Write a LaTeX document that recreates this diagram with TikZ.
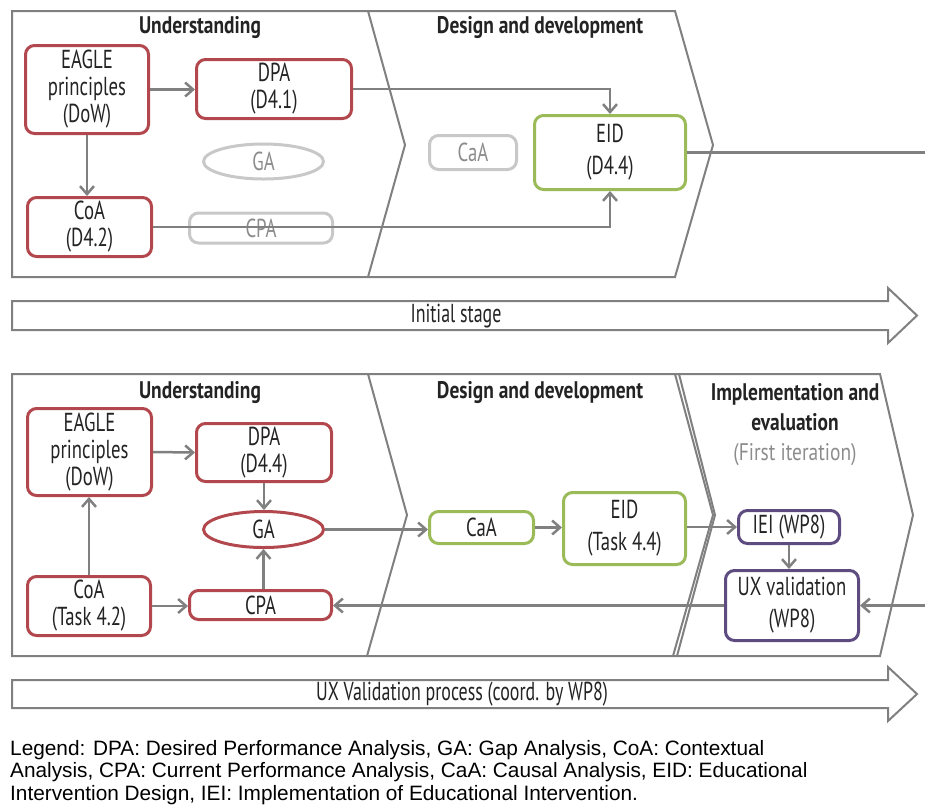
\documentclass[tikz,border=0pt]{standalone}
\usepackage{fontspec}
\setmainfont{Liberation Sans}
\newfontfamily\nodefont[FakeStretch=0.72]{PT Sans}
\newfontfamily\titlefont[FakeStretch=0.81]{PT Sans}
\newfontfamily\stagefont[FakeStretch=0.69]{PT Sans}
\usetikzlibrary{arrows.meta,shapes.geometric}

\definecolor{frame}{RGB}{128,128,128}
\definecolor{cred}{RGB}{178,72,78}
\definecolor{cgreen}{RGB}{155,187,89}
\definecolor{cpurple}{RGB}{94,76,128}
\definecolor{cfaint}{RGB}{200,200,200}
\definecolor{faintxt}{RGB}{140,140,140}
\definecolor{txt}{RGB}{35,35,35}

\tikzset{
  panel/.style={draw=frame, line width=2pt, line join=miter},
  box/.style={draw, rounded corners=9pt, line width=3pt, align=center, inner sep=0pt,
    text=txt, font=\nodefont\fontsize{26}{27}\selectfont},
  redbox/.style={box, draw=cred},
  greenbox/.style={box, draw=cgreen, font=\nodefont\fontsize{26}{32}\selectfont},
  purplebox/.style={box, draw=cpurple, font=\nodefont\fontsize{26}{32}\selectfont},
  faintbox/.style={box, draw=cfaint, text=faintxt},
  oval/.style={ellipse, draw, line width=3pt, inner sep=0pt, text=txt,
    font=\nodefont\fontsize{26}{27}\selectfont},
  title/.style={text=txt, align=center, font=\titlefont\bfseries\fontsize{24}{30}\selectfont},
  stagelabel/.style={text=txt, font=\stagefont\fontsize{26}{27}\selectfont},
  conn/.style={draw=frame, line width=2.5pt, -{Straight Barb[length=8pt,width=14pt]}},
  plain/.style={draw=frame, line width=2.5pt},
  bigarrow/.style={draw=frame, line width=2pt, fill=white},
  legend/.style={anchor=base west, inner sep=0pt, font=\fontsize{20.8}{22.5}\selectfont, text=black}
}

\begin{document}
\begin{tikzpicture}[x=1pt,y=-1pt]
\useasboundingbox (0,0) rectangle (925,807);

% ---------- initial stage: panels ----------
\draw[panel] (368,11) -- (12,11) -- (12,277) -- (675,277) -- (713,145) -- (675,11) -- (368,11)
             -- (405,145) -- (368,277);
\node[title] (tUndA) at (200,28) {Understanding};
\node[title] (tDesA) at (540,28) {Design and development};

% nodes
\node[redbox, minimum width=123pt, minimum height=88pt] (eagleA) at (87,89.5) {EAGLE\\principles\\(DoW)};
\node[redbox, minimum width=155pt, minimum height=59pt] (dpaA) at (274,89) {DPA\\(D4.1)};
\node[oval, draw=cfaint, text=faintxt, minimum width=120pt, minimum height=35pt] (gaA) at (263.5,161.5) {GA};
\node[redbox, minimum width=124pt, minimum height=59pt] (coaA) at (89.5,227) {CoA\\(D4.2)};
\node[faintbox, minimum width=143pt, minimum height=30pt] (cpaA) at (261,228) {CPA};
\node[faintbox, minimum width=87pt, minimum height=34pt] (caaA) at (473,152.5) {CaA};
\node[greenbox, minimum width=151pt, minimum height=74pt] (eidA) at (610,152.5) {EID\\(D4.4)};
\coordinate (outA) at (925,152.5);

% connectors
\draw[conn] (eagleA.east) -- (eagleA.east -| dpaA.west);
\draw[conn] (eagleA.south) -- (eagleA.south |- coaA.north);
\draw[conn] (dpaA.east) -| (eidA.north);
\draw[conn] (coaA.east) -| (eidA.south);
\draw[plain] (eidA.east) -- (outA);

% stage arrow
\draw[bigarrow] (12,301) -- (888,301) -- (888,288) -- (917,315.5) -- (888,343) -- (888,330)
                -- (12,330) -- cycle;
\node[stagelabel] (stageA) at (456,316) {Initial stage};

% ---------- UX validation process: panels ----------
\draw[panel] (368,374) -- (12,374) -- (12,656) -- (880,656) -- (913,515) -- (880,374) -- (368,374)
             -- (407,515) -- (367,656);
\draw[panel] (675,374) -- (713,515) -- (673,656);
\draw[panel] (679,374) -- (715,515) -- (677,656);
\node[title] (tUndB) at (200,393) {Understanding};
\node[title] (tDesB) at (540,393) {Design and development};
\node[title, anchor=north] (tImpB) at (795,380)
  {Implementation and\\evaluation\\{\mdseries\color{faintxt}(First iteration)}};

% nodes
\node[redbox, minimum width=124pt, minimum height=87pt] (eagleB) at (89.5,452) {EAGLE\\principles\\(DoW)};
\node[redbox, minimum width=135pt, minimum height=58pt] (dpaB) at (264,452.5) {DPA\\(D4.4)};
\node[oval, draw=cred, minimum width=120pt, minimum height=36pt] (gaB) at (263.5,529.5) {GA};
\node[redbox, minimum width=123pt, minimum height=59pt] (coaB) at (89,606) {CoA\\(Task 4.2)};
\node[redbox, minimum width=142pt, minimum height=29pt] (cpaB) at (260.5,605) {CPA};
\node[greenbox, minimum width=104pt, minimum height=32pt] (caaB) at (481.5,527.5) {CaA};
\node[greenbox, minimum width=122pt, minimum height=72pt] (eidB) at (624.5,528.5) {EID\\(Task 4.4)};
\node[purplebox, minimum width=101pt, minimum height=33pt] (ieiB) at (789,527) {IEI (WP8)};
\node[purplebox, minimum width=133pt, minimum height=70pt] (uxB) at (792,605.5) {UX validation\\(WP8)};
\coordinate (inB) at (925,605.5);

% connectors
\draw[conn] (eagleB.east) -- (dpaB.west);
\draw[conn] (coaB.north) -- (coaB.north |- eagleB.south);
\draw[conn] (dpaB.south) -- (dpaB.south |- gaB.north);
\draw[conn] (gaB.south |- cpaB.north) -- (gaB.south);
\draw[conn] (coaB.east) -- (coaB.east -| cpaB.west);
\draw[conn] (gaB.east) -- (gaB.east -| caaB.west);
\draw[conn] (caaB.east) -- (caaB.east -| eidB.west);
\draw[conn] (eidB.east |- ieiB.west) -- (ieiB.west);
\draw[conn] (ieiB.south) -- (ieiB.south |- uxB.north);
\draw[conn] (inB) -- (uxB.east);
\draw[conn] (uxB.west) -- (uxB.west -| cpaB.east);

% stage arrow
\draw[bigarrow] (12,680) -- (888,680) -- (888,667) -- (917,694) -- (888,721) -- (888,708)
                -- (12,708) -- cycle;
\node[stagelabel] (stageB) at (462,694) {UX Validation process (coord. by WP8)};

% ---------- legend ----------
\node[legend] (leg1) at (10,755) {Legend: DPA: Desired Performance Analysis, GA: Gap Analysis, CoA: Contextual};
\node[legend] (leg2) at (10,777.5) {Analysis, CPA: Current Performance Analysis, CaA: Causal Analysis, EID: Educational};
\node[legend] (leg3) at (10,800) {Intervention Design, IEI: Implementation of Educational Intervention.};
\end{tikzpicture}
\end{document}
